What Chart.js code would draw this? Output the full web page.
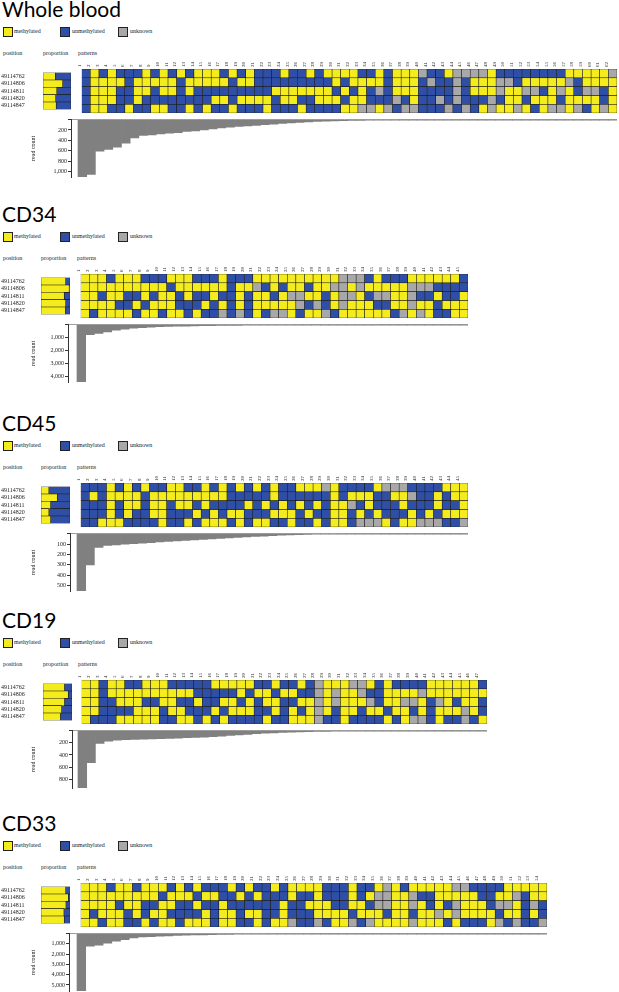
<!DOCTYPE html>
<html>
<head>
<meta charset="utf-8">
<script src="https://cdn.jsdelivr.net/npm/chart.js@4.4.1/dist/chart.umd.min.js"></script>
<style>
  body { margin: 0; background: #fff; }
  #page { position: relative; width: 619px; height: 992px; overflow: hidden; background: #fff; }
  .abs { position: absolute; white-space: nowrap; }
  .title { font-family: Lato, sans-serif; font-size: 21px; line-height: 21px; color: #000; }
  .small { font-family: 'Liberation Serif', serif; font-size: 6px; line-height: 8px; color: #222; }
  .sq { width: 8px; height: 8px; border: 0.5px solid #222; }
  canvas { position: absolute; }
</style>
</head>
<body>
<div id="page"></div>
<script>
// CpG positions (rows), same for every cell type
const positions = ['49114762', '49114806', '49114811', '49114820', '49114847'];

// Y = methylated, B = unmethylated, G = unknown; one string per position, one letter per pattern
const wbCells = [
    'BYBYBBBYBYBYBYYYBYBYBBBYBB' + 'YBYYYYBBYBYYYGBBYGGGGYBBBBBBBBYYYYYG',
    'BYYYYBYYYYYBYYYYYBYYBBBBBB' + 'BBBYBYYYYBYYYBGBBGBYYYGGBYYYYYGBYYYY',
    'BYYYBBYYBYYBYBBBBBBBBBYYYY' + 'YYYBYBYBGBYYYBBBBGBYYYGYYGGBYGYBGGBY',
    'BYYYBBYBBBBBBBBYYBYYYYBYYB' + 'BYYYBYYBBBGBYBBGBGBBBGBYYBYYYBYYYYBY',
    'BYYBBYBBYYBBYBYBBYBBBYBBBY' + 'BBBBYYGGYGBGGBBBGBGBYGYYGYBYGGYGBYGY'
];
const wbReads = [1108, 1056, 608, 576, 531, 455, 352, 307, 294, 276, 263, 250, 230, 218, 198, 179, 160, 147, 134, 122,
    110, 98, 86, 75, 64, 54, 45, 37, 31, 26, 22, 18, 15, 12, 10, 8, 7, 6, 5, 4,
    4, 3, 3, 3, 2, 2, 2, 2, 2, 1, 1, 1, 1, 1, 1, 1, 1, 1, 1, 1, 1, 1];
const wbMeth = [0.44, 0.70, 0.49, 0.45, 0.47];
const wbUnmeth = [0.56, 0.30, 0.51, 0.55, 0.53];

const cd34Cells = [
    'YYYBYYYBBBYYYBBBYBB' + 'BYYYYYYYYYYGGGBYBBBYYYYYYB',
    'YYYYYYYYYYBYYYYYYBY' + 'YGBYBYYBYYGGYGYYYYYGGGBBBB',
    'YYBYYBBYBYYBYBBYBBY' + 'BYYBYGGYYBYGGYBGGYYGBBYBBY',
    'YYYYBBYBYYYBBBYBYBY' + 'BYYYYYGBGBYGYYYBBYYGYYBYYY',
    'YBYYYYBYYBYYBYBBGBG' + 'BYBGGYBYYGBYYYYYYBGYGYBBYY'
];
const cd34Reads = [4460, 790, 690, 560, 430, 355, 280, 230, 195, 170, 150, 130, 115, 100, 90, 80, 72, 65, 58, 52,
    47, 42, 38, 34, 30, 27, 24, 21, 19, 17, 15, 13, 11, 10, 9, 8, 7, 6, 5, 5, 4, 3, 3, 2, 2];
const cd34Meth = [0.85, 0.97, 0.80, 0.85, 0.84];
const cd34Unmeth = [0.15, 0.03, 0.20, 0.15, 0.16];

const cd45Cells = [
    'BBBYBYBYBBYYBBYBYBY' + 'BYBYBBYYYGYBBBBYGGGBBBBYYY',
    'BYBYYYYBYYYYYYYYYBB' + 'BBBYBBBBBBYBYYYBBYYGBBYBYY',
    'BBBYBYYBYYBYYBYBBBB' + 'YBYBYBYBYBYYGBYBBBYBBBYBBY',
    'BBBYBYBBYYBBBYBYBYY' + 'BBBYYYBYBBYYBYBYBBBYBYBYYY',
    'BBYYYBBBBYBBYBYYYBY' + 'BYYBBYBBYBYYBGGGYBYYGGGBBG'
];
const cd45Reads = [551, 300, 132, 113, 108, 102, 96, 91, 86, 81, 76, 71, 66, 61, 57, 52, 47, 42, 37, 32,
    28, 24, 20, 16, 13, 10, 8, 6, 5, 4, 3, 3, 2, 2, 2, 1, 1, 1, 1, 1, 1, 1, 1, 1, 1];
const cd45Meth = [0.27, 0.56, 0.33, 0.27, 0.33];
const cd45Unmeth = [0.73, 0.44, 0.67, 0.73, 0.67];

const cd19Cells = [
    'YYBYYBBYYYBBBBBYYYY' + 'YBBYBBYBGYYYGGYBYBBBBYYYYYYB',
    'YYBYYYYYYYYYYBBBBBY' + 'BYYBYYBBGYGYYGBBYYYYGYYYYYYY',
    'YYBBYYYBBYYBBYBBYYB' + 'YBYYBBYYGYGYYYGBYYGGYBGYBYYB',
    'YYBBBBYYYBYYBBBYBYY' + 'YBBYBYBYGYBYYBYYBYYBYBYYYGYB',
    'YBBBYYYYYBBYYBYBYBB' + 'BBYBBYYYGBBYBBBBYBYGGBYBBGBY'
];
const cd19Reads = [943, 528, 210, 172, 156, 151, 146, 142, 138, 134, 129, 124, 118, 113, 107, 99, 90, 81, 72, 62,
    52, 44, 37, 31, 26, 22, 18, 15, 12, 10, 8, 7, 6, 5, 4, 3, 3, 2, 2, 2, 1, 1, 1, 1, 1, 1, 1];
const cd19Meth = [0.74, 0.87, 0.74, 0.64, 0.60];
const cd19Unmeth = [0.26, 0.13, 0.26, 0.36, 0.40];

const cd33Cells = [
    'YYYBYYBYYYBYBYBBBYBYBBY' + 'BYYYYBBBYBBYGYBYYYYYGGBBBBYYYYY',
    'YYYYYYYYYBYYYBYYBBYBYBB' + 'BYBBYBBBYBYGGYYGBBYYYYYBBYYGBYY',
    'YYYYBYYBBYYBBYBBYBBBBBB' + 'YBBYYYBBYYBGGYYGYBYBGYYYBGGYBGB',
    'YBYYYBYBYYBBBBYBYYBYYBB' + 'YBBBYYYYBYYYBYYBYYGYGYYYYBYYBYB',
    'YYBYYBBYBYYBYYYBYYBBYBY' + 'YGBBGBYYGBGYYYYGYYYBYBBBYGBGBBG'
];
const cd33Reads = [5585, 1230, 1130, 940, 745, 585, 425, 330, 290, 250, 215, 185, 160, 140, 120, 100, 85, 72, 60, 50,
    42, 35, 30, 25, 20, 16, 13, 10, 8, 6, 5, 4, 3, 3, 2, 2, 2, 1, 1, 1, 1, 1, 1, 1, 1, 1, 1, 1, 1, 1, 1, 1, 1, 1];
const cd33Meth = [0.85, 0.94, 0.86, 0.79, 0.80];
const cd33Unmeth = [0.15, 0.06, 0.14, 0.21, 0.20];

const colorMap = { Y: '#f4ec1c', B: '#2f4fa6', G: '#a8a8a8' };
const cellW = 8.7;
const serif = 'Liberation Serif';

const panels = [
    { name: 'Whole blood', top: 0, gx: 78, axisX: 71, prop: [43, 71], cells: wbCells, reads: wbReads, meth: wbMeth, unmeth: wbUnmeth, step: 200 },
    { name: 'CD34', top: 205, gx: 77, axisX: 68, prop: [41, 70], cells: cd34Cells, reads: cd34Reads, meth: cd34Meth, unmeth: cd34Unmeth, step: 1000 },
    { name: 'CD45', top: 414, gx: 77, axisX: 70, prop: [41, 70], cells: cd45Cells, reads: cd45Reads, meth: cd45Meth, unmeth: cd45Unmeth, step: 100 },
    { name: 'CD19', top: 611, gx: 78, axisX: 72, prop: [43, 72], cells: cd19Cells, reads: cd19Reads, meth: cd19Meth, unmeth: cd19Unmeth, step: 200 },
    { name: 'CD33', top: 814, gx: 77, axisX: 69, prop: [41, 70], cells: cd33Cells, reads: cd33Reads, meth: cd33Meth, unmeth: cd33Unmeth, step: 1000 }
];

const page = document.getElementById('page');

function addDiv(cls, text, left, top) {
    const d = document.createElement('div');
    d.className = cls;
    d.textContent = text;
    d.style.left = left + 'px';
    d.style.top = top + 'px';
    page.appendChild(d);
    return d;
}

function addCanvas(left, top, w, h) {
    const c = document.createElement('canvas');
    c.width = w;
    c.height = h;
    c.style.left = left + 'px';
    c.style.top = top + 'px';
    c.style.width = w + 'px';
    c.style.height = h + 'px';
    page.appendChild(c);
    return c;
}

const baseOptions = {
    responsive: false,
    animation: false,
    events: [],
    plugins: { legend: { display: false }, tooltip: { enabled: false } }
};

function buildPanel(p) {
    const n = p.reads.length;
    const t = p.top;

    // title, legend, headers
    addDiv('abs title', p.name, 2, t - 2);
    [['methylated', 'Y', 3, 14], ['unmethylated', 'B', 60, 72], ['unknown', 'G', 118, 130]].forEach(l => {
        const sq = addDiv('abs sq', '', l[2], t + 27);
        sq.style.background = colorMap[l[1]];
        addDiv('abs small', l[0], l[3], t + 27);
    });
    addDiv('abs small', 'position', 3, t + 49);
    addDiv('abs small', 'proportion', p.prop[0], t + 49);
    addDiv('abs small', 'patterns', p.gx, t + 49);

    // pattern heatmap
    const gridW = Math.round(n * cellW);
    const heat = addCanvas(p.gx, t + 57, gridW, 56);
    new Chart(heat, {
        type: 'bar',
        data: {
            labels: p.reads.map((v, i) => String(i + 1)),
            datasets: p.cells.map((row, r) => ({
                label: positions[r],
                data: row.split('').map(() => 1),
                backgroundColor: row.split('').map(c => colorMap[c]),
                borderColor: '#1c1c1c',
                borderWidth: 0.6,
                borderSkipped: false,
                categoryPercentage: 1,
                barPercentage: 1
            }))
        },
        options: {
            ...baseOptions,
            layout: { padding: 0 },
            scales: {
                x: {
                    stacked: true,
                    position: 'top',
                    grid: { display: false, drawTicks: false },
                    border: { display: false },
                    ticks: {
                        autoSkip: false, minRotation: 90, maxRotation: 90, padding: 2,
                        font: { family: serif, size: 5 }, color: '#222'
                    },
                    afterFit: s => { s.height = 12; }
                },
                y: { stacked: true, display: false, reverse: true, min: 0, max: 5 }
            }
        }
    });

    // proportion per position
    const prop = addCanvas(0, t + 69, p.prop[1], 44);
    new Chart(prop, {
        type: 'bar',
        data: {
            labels: positions,
            datasets: [
                { label: 'methylated', data: p.meth, backgroundColor: colorMap.Y },
                { label: 'unmethylated', data: p.unmeth, backgroundColor: colorMap.B }
            ].map(d => Object.assign(d, {
                borderColor: '#1c1c1c', borderWidth: 0.6, borderSkipped: false,
                categoryPercentage: 1, barPercentage: 1
            }))
        },
        options: {
            ...baseOptions,
            indexAxis: 'y',
            layout: { padding: { left: 1 } },
            scales: {
                x: { stacked: true, display: false, min: 0, max: 1 },
                y: {
                    stacked: true,
                    grid: { display: false, drawTicks: false },
                    border: { display: false },
                    ticks: { autoSkip: false, crossAlign: 'far', padding: 0, font: { family: serif, size: 6 }, color: '#222' },
                    afterFit: s => { s.width = p.prop[0] - 1; }
                }
            }
        }
    });

    // read count bars hanging below the patterns
    const readW = p.gx + gridW;
    const rc = addCanvas(0, t + 115, readW, 67);
    new Chart(rc, {
        type: 'bar',
        data: {
            datasets: [{
                label: 'read count',
                data: p.reads.map((v, i) => ({ x: i + 1, y: v })),
                backgroundColor: '#808080',
                borderWidth: 0,
                categoryPercentage: 1,
                barPercentage: 1
            }]
        },
        options: {
            ...baseOptions,
            layout: { padding: { top: 4, bottom: 5, left: 0, right: 0 } },
            scales: {
                x: {
                    type: 'linear',
                    position: 'top',
                    offset: false,
                    min: 0.5 - (p.gx - p.axisX) / cellW,
                    max: n + 0.5,
                    ticks: { display: false },
                    grid: { display: false, drawTicks: false },
                    border: { display: true, color: '#a0a0a0', width: 1 },
                    afterFit: s => { s.height = 0; }
                },
                y: {
                    reverse: true,
                    min: 0,
                    max: p.reads[0],
                    grid: { drawOnChartArea: false, tickLength: 3, color: '#333' },
                    border: { display: true, color: '#333', width: 1 },
                    ticks: {
                        padding: 1,
                        font: { family: serif, size: 6 },
                        color: '#222',
                        callback: v => v === 0 ? '' : v.toLocaleString('en-US')
                    },
                    afterBuildTicks: s => {
                        const ticks = [];
                        for (let v = 0; v <= s.max; v += p.step) ticks.push({ value: v });
                        s.ticks = ticks;
                    },
                    title: {
                        display: true, text: 'read count', color: '#222',
                        font: { family: serif, size: 6 }, padding: { top: 30, bottom: 0 }
                    },
                    afterFit: s => { s.width = p.axisX; }
                }
            }
        }
    });
}

panels.forEach(buildPanel);
</script>
</body>
</html>
